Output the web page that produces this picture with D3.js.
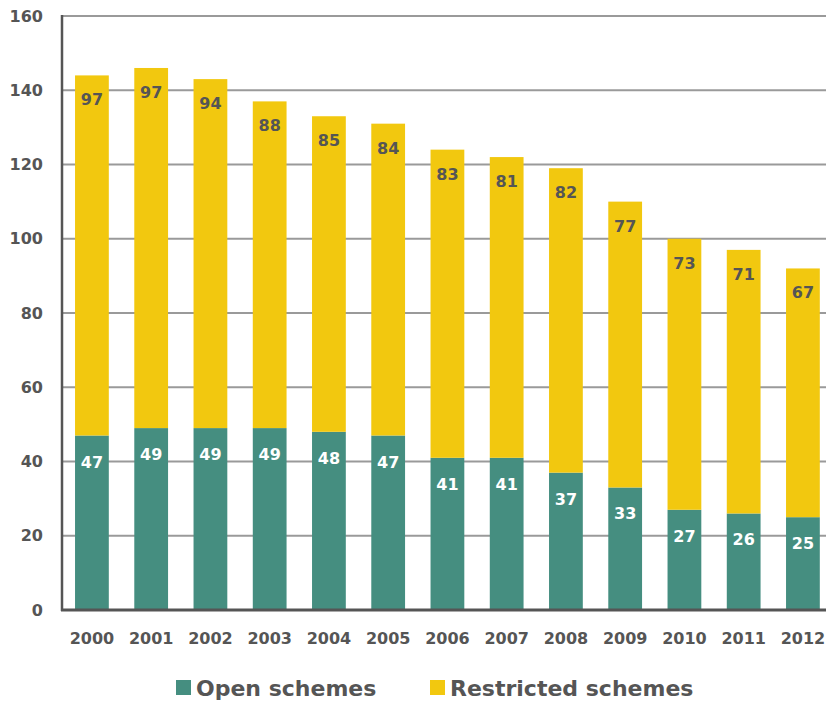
<!DOCTYPE html>
<html>
  <head>
    <meta charset="UTF-8">
    <script src="https://d3js.org/d3.v7.min.js"></script>
    <style>
      body { margin: 0; background: #fff; }
      text { font-family: "DejaVu Sans", sans-serif; font-weight: bold; }
    </style>
  </head>
  <body>
    <svg id="chart" width="826" height="703"></svg>
    <script type="text/javascript">
      // data
      var years = ['2000', '2001', '2002', '2003', '2004', '2005', '2006',
                   '2007', '2008', '2009', '2010', '2011', '2012'];
      var openSchemes = [47, 49, 49, 49, 48, 47, 41, 41, 37, 33, 27, 26, 25];
      var restrictedSchemes = [97, 97, 94, 88, 85, 84, 83, 81, 82, 77, 73, 71, 67];
      var yTicks = [0, 20, 40, 60, 80, 100, 120, 140, 160];
      var seriesNames = ['Open schemes', 'Restricted schemes'];

      var colors = ['#458e80', '#f2c80f'];
      var textColor = '#555';

      var svg = d3.select('#chart');
      var plotL = 62, plotR = 826, plotT = 16, plotB = 610;

      var y = d3.scaleLinear().domain([0, 160]).range([plotB, plotT]);
      var x = d3.scaleBand().domain(years)
        .range([plotL, plotL + 59.25 * 13.01])
        .paddingInner(0.43).paddingOuter(0.22);

      // gridlines
      svg.append('g').selectAll('line')
        .data(yTicks.filter(function(d) { return d > 0; }))
        .enter().append('line')
        .attr('x1', plotL).attr('x2', plotR)
        .attr('y1', function(d) { return y(d); })
        .attr('y2', function(d) { return y(d); })
        .attr('stroke', '#9a9a9a').attr('stroke-width', 2);

      var rows = years.map(function(yr, i) {
        return { year: yr, open: openSchemes[i], restricted: restrictedSchemes[i] };
      });

      // open schemes
      svg.append('g').selectAll('rect')
        .data(rows).enter().append('rect')
        .attr('x', function(d) { return x(d.year); })
        .attr('width', x.bandwidth())
        .attr('y', function(d) { return y(d.open); })
        .attr('height', function(d) { return y(0) - y(d.open); })
        .attr('fill', colors[0]);

      // restricted schemes on top
      svg.append('g').selectAll('rect')
        .data(rows).enter().append('rect')
        .attr('x', function(d) { return x(d.year); })
        .attr('width', x.bandwidth())
        .attr('y', function(d) { return y(d.open + d.restricted); })
        .attr('height', function(d) { return y(d.open) - y(d.open + d.restricted); })
        .attr('fill', colors[1]);

      // value labels
      svg.append('g').selectAll('text')
        .data(rows).enter().append('text')
        .attr('x', function(d) { return x(d.year) + x.bandwidth() / 2; })
        .attr('y', function(d) { return y(d.open) + 32; })
        .attr('text-anchor', 'middle')
        .attr('font-size', 16)
        .attr('fill', '#fff')
        .text(function(d) { return d.open; });

      svg.append('g').selectAll('text')
        .data(rows).enter().append('text')
        .attr('x', function(d) { return x(d.year) + x.bandwidth() / 2; })
        .attr('y', function(d) { return y(d.open + d.restricted) + 30; })
        .attr('text-anchor', 'middle')
        .attr('font-size', 16)
        .attr('fill', textColor)
        .text(function(d) { return d.restricted; });

      // axis lines
      svg.append('line')
        .attr('x1', plotL).attr('x2', plotL).attr('y1', plotT - 1).attr('y2', plotB + 1)
        .attr('stroke', '#555').attr('stroke-width', 2.5);
      svg.append('line')
        .attr('x1', plotL - 1).attr('x2', plotR).attr('y1', plotB).attr('y2', plotB)
        .attr('stroke', '#555').attr('stroke-width', 3);

      // tick labels
      svg.append('g').selectAll('text')
        .data(yTicks).enter().append('text')
        .attr('x', 43)
        .attr('y', function(d) { return y(d); })
        .attr('dy', '0.35em')
        .attr('text-anchor', 'end')
        .attr('font-size', 16)
        .attr('fill', textColor)
        .text(function(d) { return d; });

      svg.append('g').selectAll('text')
        .data(years).enter().append('text')
        .attr('x', function(d) { return x(d) + x.bandwidth() / 2; })
        .attr('y', 644)
        .attr('text-anchor', 'middle')
        .attr('font-size', 16)
        .attr('fill', textColor)
        .text(function(d) { return d; });

      // legend
      var legendX = [176, 430];
      var lg = svg.append('g').selectAll('g')
        .data(seriesNames).enter().append('g')
        .attr('transform', function(d, i) { return 'translate(' + legendX[i] + ',680)'; });
      lg.append('rect')
        .attr('width', 15).attr('height', 15)
        .attr('fill', function(d, i) { return colors[i]; });
      lg.append('text')
        .attr('x', 20).attr('y', 16)
        .attr('font-size', 22)
        .attr('fill', textColor)
        .text(function(d) { return d; });
    </script>
  </body>
</html>
